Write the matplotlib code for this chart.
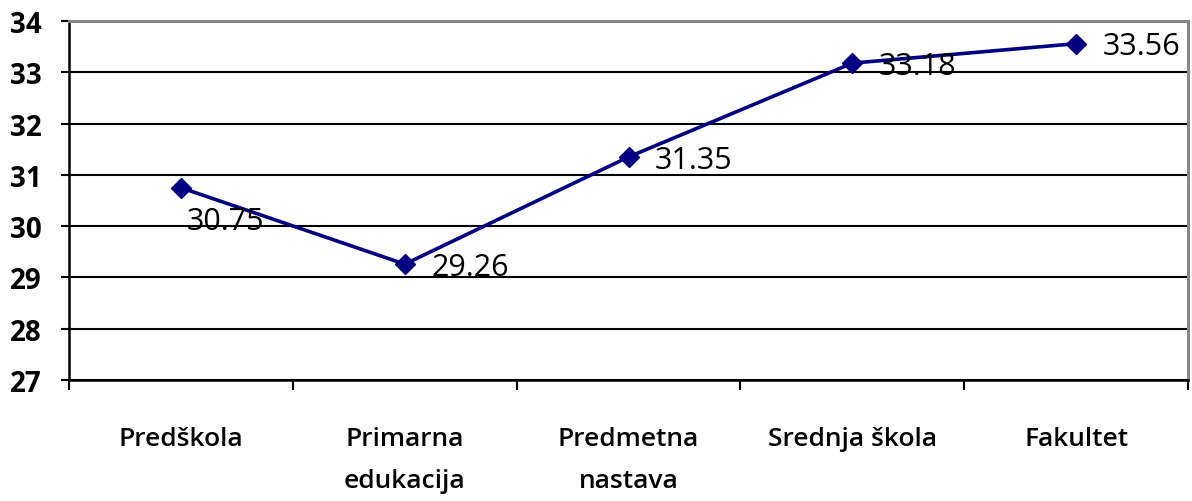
import matplotlib.pyplot as plt

# data
categories = ['Predškola', 'Primarna\nedukacija', 'Predmetna\nnastava', 'Srednja škola', 'Fakultet']
values = [30.75, 29.26, 31.35, 33.18, 33.56]
y_ticks = [27, 28, 29, 30, 31, 32, 33, 34]

plt.rcParams['font.family'] = ['Open Sans', 'DejaVu Sans']

fig = plt.figure(figsize=(11.92, 5.02), dpi=100)
ax = fig.add_axes([0.058, 0.241, 0.9386, 0.715])

x = [i + 0.5 for i in range(len(values))]
ax.plot(x, values, color='#000080', linewidth=2.6, marker='D', markersize=10,
        markerfacecolor='#000080', markeredgecolor='#000080', zorder=3)

# data labels (first one sits below the point, the rest to the right)
for i, (xi, v) in enumerate(zip(x, values)):
    if i == 0:
        off = (4, -24)
    else:
        off = (19, -2)
    ax.annotate(f'{v:.2f}', (xi, v), xytext=off, textcoords='offset points',
                ha='left', va='center', fontsize=22, color='black', zorder=4)

ax.set_xlim(0, len(values))
ax.set_ylim(27, 34)
ax.set_yticks(y_ticks)
ax.set_xticks(range(len(values) + 1))
ax.set_xticklabels([])
ax.set_xticks(x, minor=True)
ax.set_xticklabels(categories, minor=True, fontsize=19, fontweight='semibold',
                   linespacing=1.9)
ax.tick_params(axis='x', which='minor', length=0, pad=33)
ax.tick_params(axis='x', which='major', length=7, width=1.5, direction='out')
ax.tick_params(axis='y', length=6, width=1.5, labelsize=20, pad=14)
for lbl in ax.get_yticklabels():
    lbl.set_fontweight('bold')

ax.grid(axis='y', color='black', linewidth=1.5)
ax.set_axisbelow(True)

ax.spines['left'].set_color('black')
ax.spines['left'].set_linewidth(1.8)
ax.spines['bottom'].set_color('black')
ax.spines['bottom'].set_linewidth(1.8)
ax.spines['top'].set_color('#888888')
ax.spines['top'].set_linewidth(2.2)
ax.spines['right'].set_color('#888888')
ax.spines['right'].set_linewidth(2.2)

fig.savefig('out.png', dpi=100)
